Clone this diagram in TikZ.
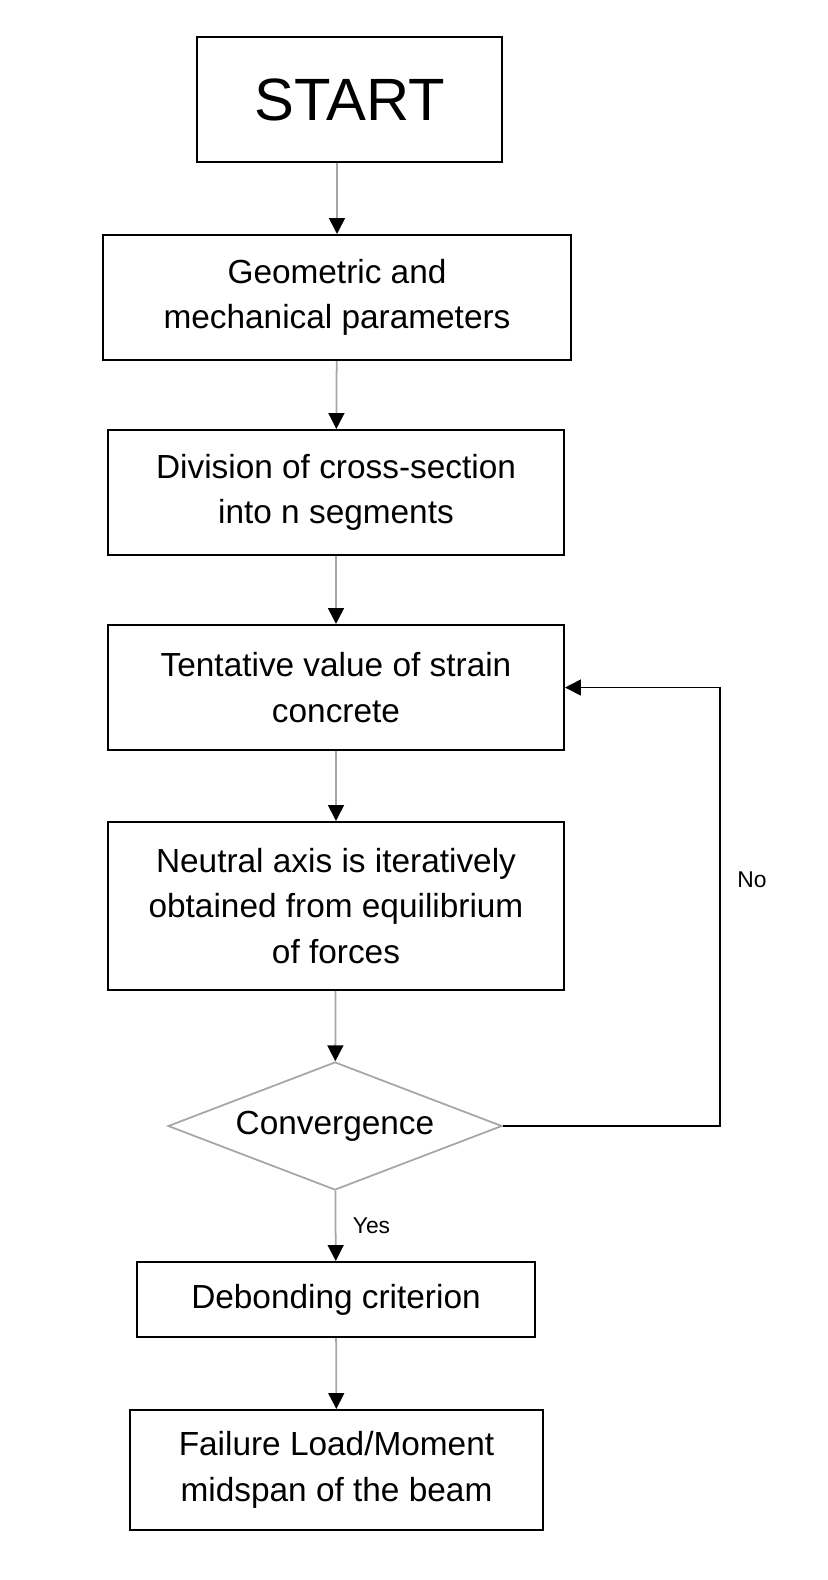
\documentclass[tikz,border=0pt]{standalone}
\usepackage{fontspec}
\setmainfont{Liberation Sans}
\usetikzlibrary{shapes.geometric,arrows.meta}
\begin{document}
\begin{tikzpicture}[x=0.02cm,y=-0.02cm,
  box/.style={draw=black,line width=1.2pt,align=center,inner sep=0pt,font=\fontsize{19}{26}\selectfont},
  arr/.style={draw=gray!70,line width=1pt,-{Triangle[black,length=9pt,width=9pt]}},
  lbl/.style={font=\fontsize{13}{15}\selectfont}]
\useasboundingbox (0,0) rectangle (828,1580);
\node[box,minimum width=6.1cm,minimum height=2.5cm,font=\fontsize{34}{40}\selectfont] (start) at (349.5,99.5) {START};
\node[box,minimum width=9.36cm,minimum height=2.5cm] (geo) at (337,297.5) {Geometric and\\mechanical parameters};
\node[box,minimum width=9.12cm,minimum height=2.5cm] (div) at (336,492.5) {Division of cross-section\\into n segments};
\node[box,minimum width=9.12cm,minimum height=2.5cm] (ten) at (336,687.5) {Tentative value of strain\\concrete};
\node[box,minimum width=9.12cm,minimum height=3.36cm] (neu) at (336,906) {Neutral axis is iteratively\\obtained from equilibrium\\of forces};
\node[draw=gray!70,line width=1pt,diamond,aspect=2.61,minimum width=6.68cm,minimum height=2.56cm,inner sep=0pt,font=\fontsize{19}{26}\selectfont] (conv) at (335,1126) {Convergence};
\node[box,minimum width=7.96cm,minimum height=1.5cm] (deb) at (336,1299.5) {Debonding criterion};
\node[box,minimum width=8.26cm,minimum height=2.4cm] (fail) at (336.5,1470) {Failure Load/Moment\\midspan of the beam};
\draw[arr] (start.south -| geo.north) -- (geo.north);
\draw[arr] (geo) -- (div);
\draw[arr] (div) -- (ten);
\draw[arr] (ten) -- (neu);
\draw[arr] (neu) -- (conv);
\draw[arr] (conv) -- node[lbl,right,xshift=6pt]{Yes} (deb);
\draw[arr] (deb) -- (fail);
\coordinate (c1) at (720,1126);
\draw[arr,draw=black] (conv.east) -- (c1) |- (ten.east);
\node[lbl] (no) at (752,880) {No};
\end{tikzpicture}
\end{document}
